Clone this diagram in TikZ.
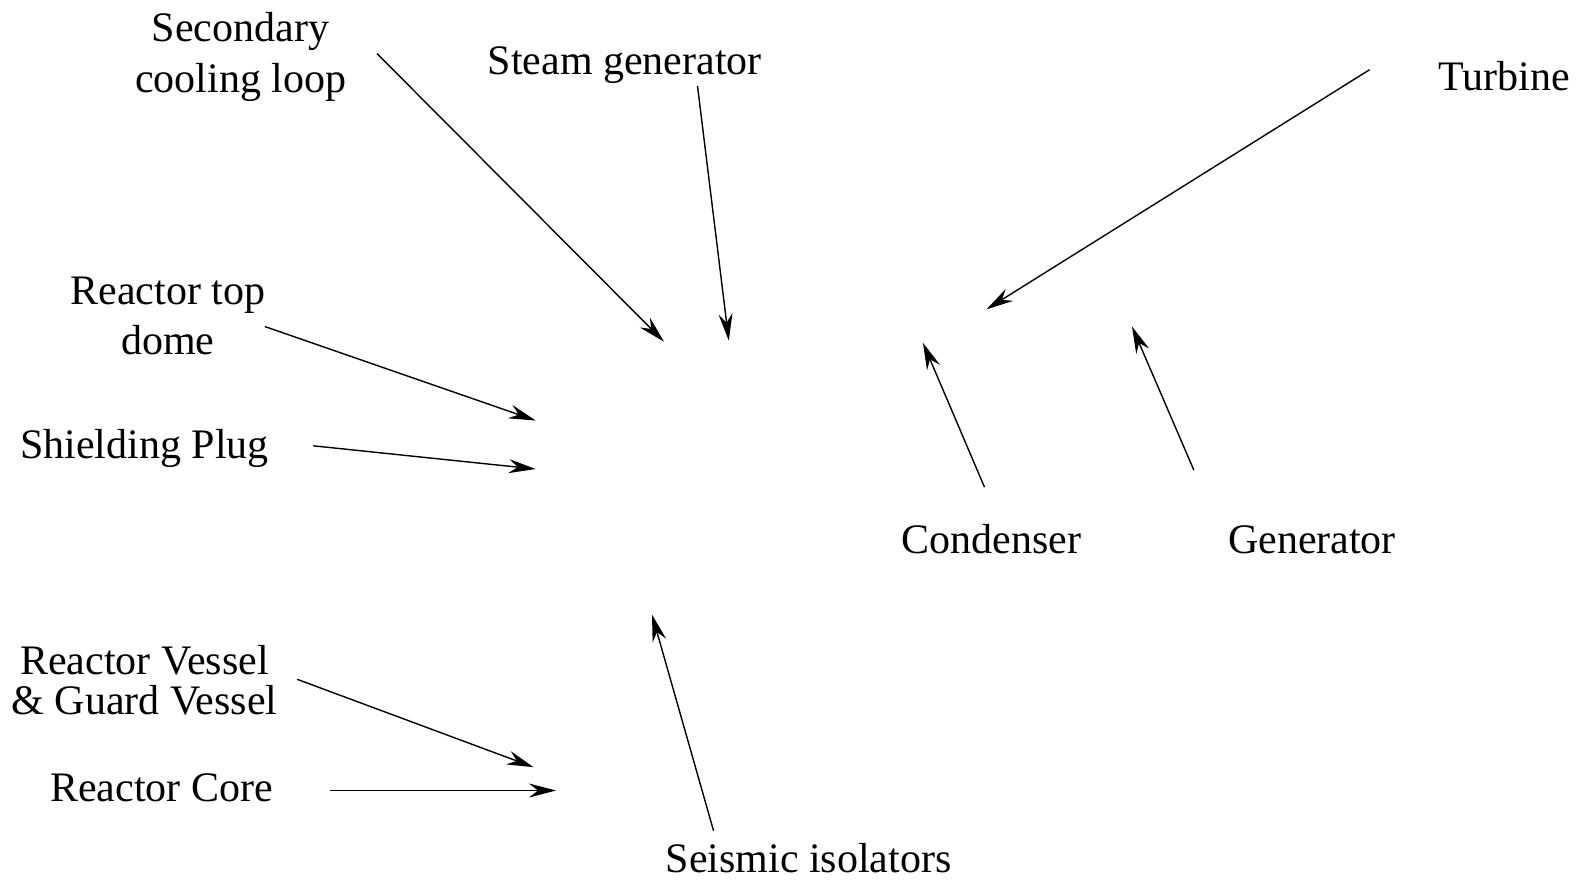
\documentclass[tikz,border=0pt]{standalone}
\usepackage{fontspec}
\setmainfont{Liberation Serif}
\usetikzlibrary{arrows.meta}

\begin{document}
\begin{tikzpicture}[x=0.5pt,y=0.5pt,yscale=-1,xscale=1,
  lbl/.style={align=center,inner sep=0pt,font=\fontsize{21}{25.3}\selectfont},
  pointer/.style={line width=0.7pt,-{Stealth[length=13.5pt,width=7pt,inset=4.5pt]}}]
\useasboundingbox (0,0) rectangle (1585,880);

% Text Node
\node [lbl] (scl) at (240.6,57) {Secondary\\cooling loop};
% Text Node
\node [lbl] (sg) at (624.7,65) {Steam generator};
% Text Node
\node [lbl] (tur) at (1504,76) {Turbine};
% Text Node
\node [lbl] (rtd) at (167.8,316) {Reactor top\\dome};
% Text Node
\node [lbl] (sp) at (144.5,448) {Shielding Plug};
% Text Node
\node [lbl] (con) at (991.6,539) {Condenser};
% Text Node
\node [lbl] (gen) at (1312,540) {Generator};
% Text Node
\node [lbl,font=\fontsize{21}{20.2}\selectfont] (rvgv) at (144.5,680) {Reactor Vessel\\\& Guard Vessel};
% Text Node
\node [lbl] (rc) at (161.7,788) {Reactor Core};
% Text Node
\node [lbl] (si) at (808.6,858) {Seismic isolators};

% arrow ends
\coordinate (scl-t) at (377,53.6);   \coordinate (scl-h) at (664,341.7);
\coordinate (sg-t) at (697.5,85.9);  \coordinate (sg-h) at (728.8,340.6);
\coordinate (tur-t) at (1369.6,69.7); \coordinate (tur-h) at (986.5,309.3);
\coordinate (rtd-t) at (264.8,326.5); \coordinate (rtd-h) at (535.7,420.5);
\coordinate (sp-t) at (313.3,445.8);  \coordinate (sp-h) at (535.7,469);
\coordinate (con-t) at (984.5,487.2); \coordinate (con-h) at (922.9,342.7);
\coordinate (gen-t) at (1193.8,470);  \coordinate (gen-h) at (1132,326.5);
\coordinate (rvgv-t) at (297.2,679.3); \coordinate (rvgv-h) at (533.7,767.2);
\coordinate (rc-t) at (329.5,790.5);  \coordinate (rc-h) at (556,790.5);
\coordinate (si-t) at (713.6,830.9);  \coordinate (si-h) at (652,614.6);

% Arrows
\foreach \a in {scl,sg,tur,rtd,sp,con,gen,rvgv,rc,si}
  \draw [pointer] (\a-t) -- (\a-h);

\end{tikzpicture}
\end{document}
